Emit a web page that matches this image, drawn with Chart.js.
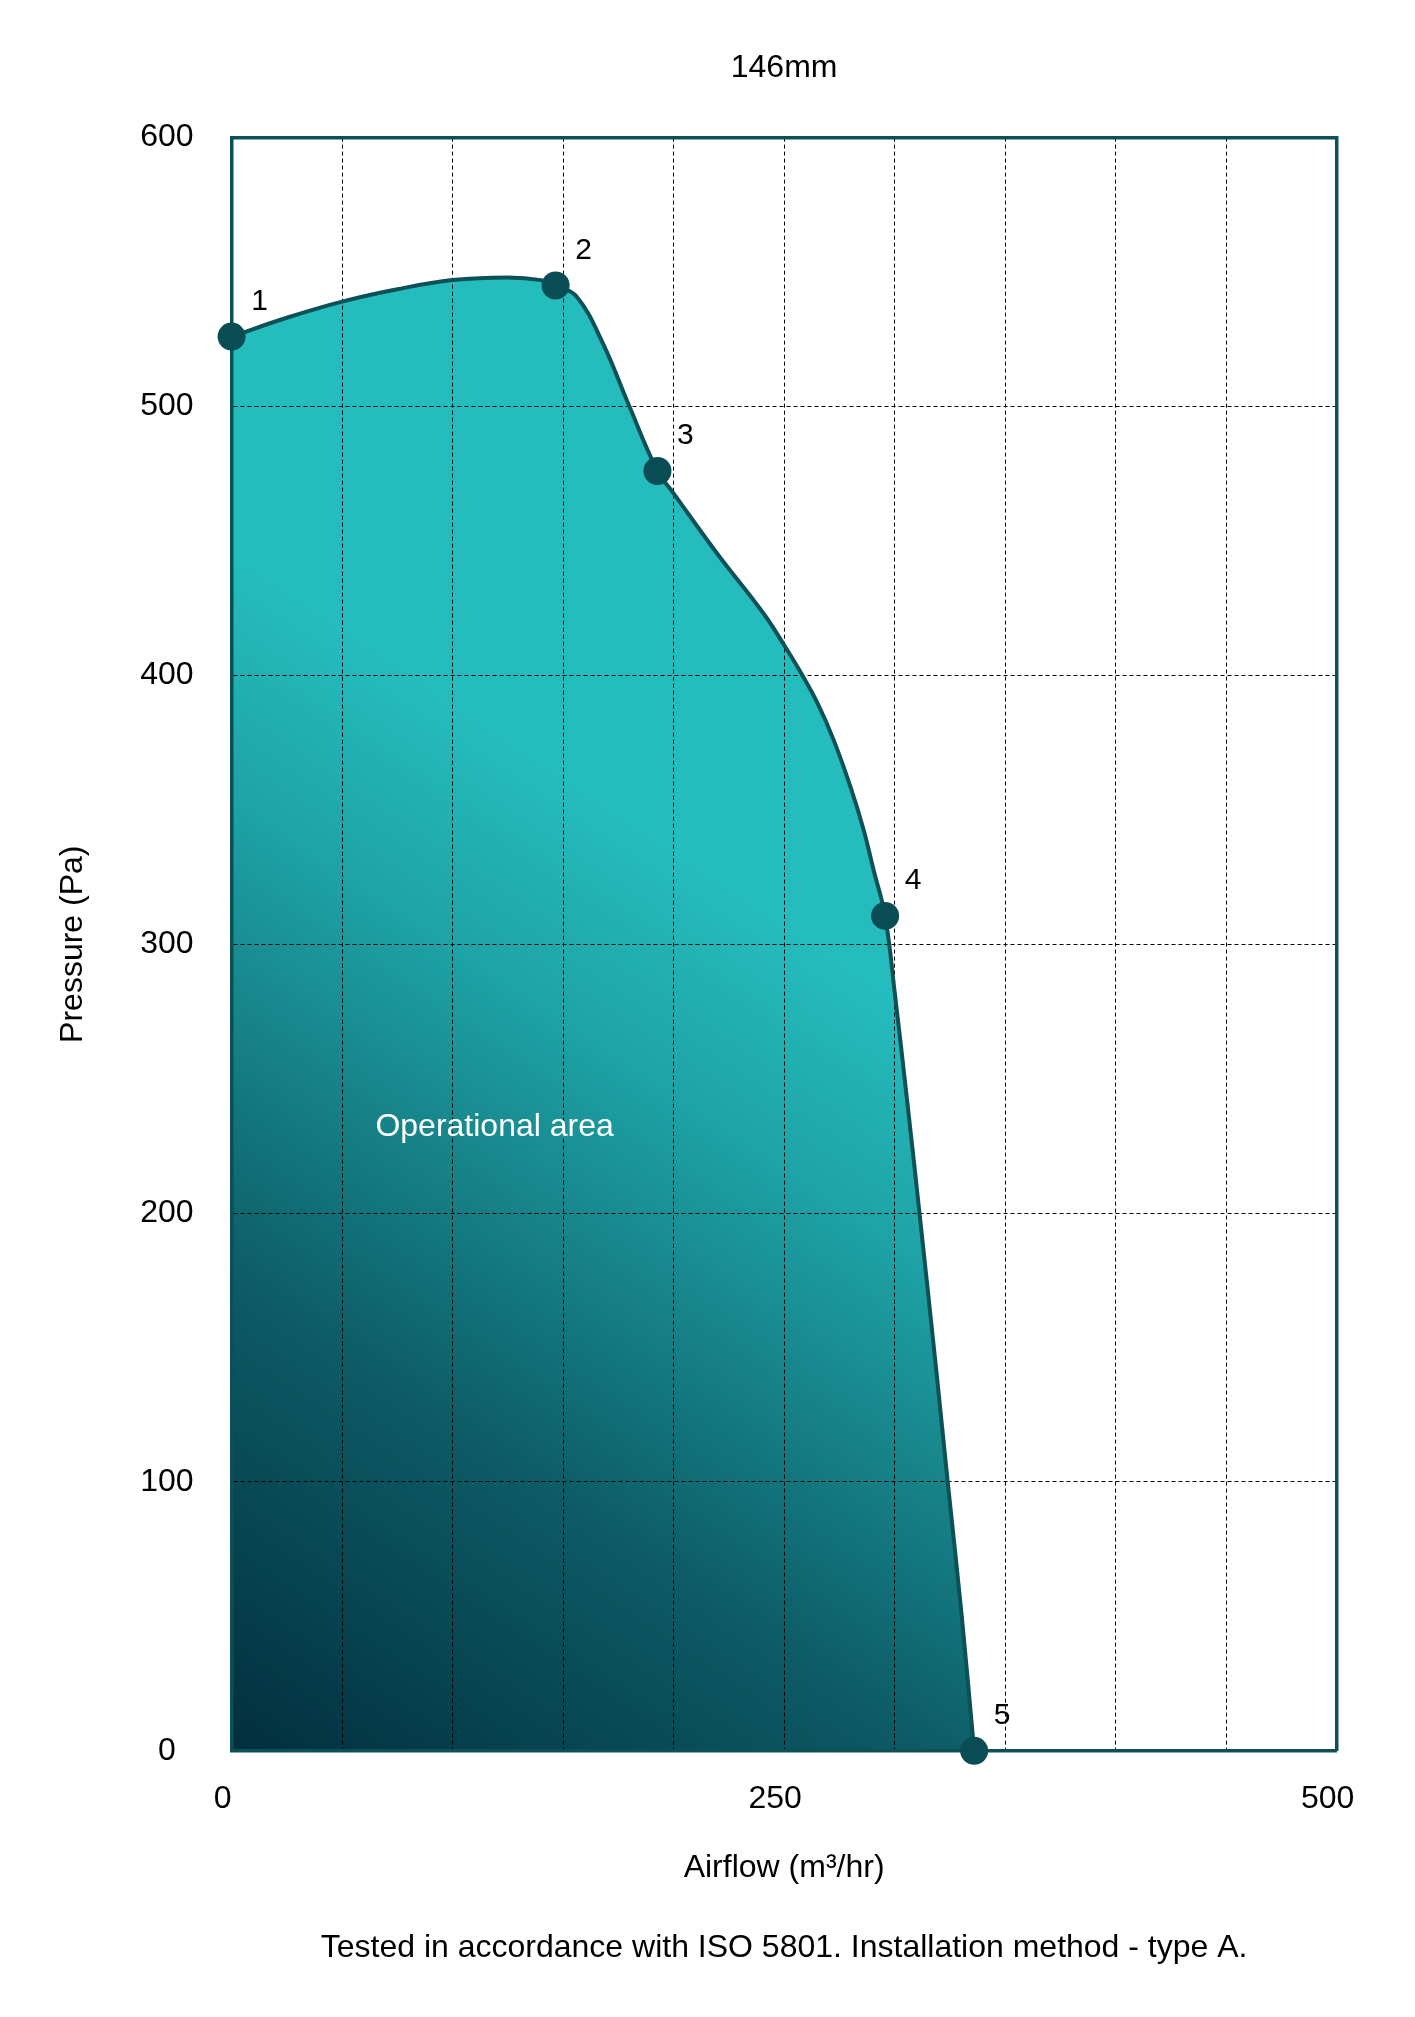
<html>
<head>
  <title>146mm fan curve</title>
  <style type="text/css">
    body { margin: 0; background: #fff; }
    #chart { display: block; }
  </style>
</head>
<body>
  <canvas id="chart" width="1415" height="2017"></canvas>
  <script src="https://cdn.jsdelivr.net/npm/chart.js@4/dist/chart.umd.min.js"></script>
  <script>
    // fan curve (airflow m3/hr, pressure Pa)
    const curveFlow = [0, 25, 50, 75, 100, 125, 140, 146.6, 156, 168, 179.5, 192.7, 200, 219.6, 240.7, 250.2, 258, 264.9, 272.4, 280, 286, 290.5, 295.7, 300.2, 305.5, 311, 319.3, 323.9, 330.4, 336];
    const curvePressure = [526, 533, 539, 543.6, 547, 548, 547, 545, 541, 523.5, 501, 476, 467.7, 445.4, 423, 411, 400.4, 390, 376, 358.6, 342.5, 327.6, 310.5, 281, 243, 202, 138, 101, 50, 0];

    // numbered test points
    const pointNames = ['1', '2', '3', '4', '5'];
    const pointFlow = [0, 146.6, 192.7, 295.7, 336];
    const pointPressure = [526, 545, 476, 310.5, 0];

    const xTickLabels = [0, 250, 500];
    const areaLabel = 'Operational area';

    const FONT = '"Liberation Sans", Arial, Helvetica, sans-serif';
    const dark = '#0C5058';
    const fillStops = ['#022f3e', '#0d5c66', '#168086', '#1ea3a6', '#25bcbd'];

    function areaGradient(c) {
      const a = c.chart.chartArea;
      if (!a) return fillStops[fillStops.length - 1];
      const w = a.right - a.left, h = a.bottom - a.top;
      const g = c.chart.ctx.createLinearGradient(a.left, a.bottom, a.left + 0.50 * w, a.top + 0.49 * h);
      g.addColorStop(0, fillStops[0]);
      g.addColorStop(0.4, fillStops[1]);
      g.addColorStop(0.6, fillStops[2]);
      g.addColorStop(0.8, fillStops[3]);
      g.addColorStop(1, fillStops[4]);
      return g;
    }

    const textPlugin = {
      id: 'textLabels',
      afterDatasetsDraw(chart) {
        const { ctx, scales: { x, y } } = chart;
        ctx.save();
        ctx.textAlign = 'center';
        ctx.textBaseline = 'middle';
        ctx.fillStyle = '#000';
        ctx.font = '30px ' + FONT;
        pointNames.forEach((n, i) => {
          ctx.fillText(n, x.getPixelForValue(pointFlow[i]) + 28, y.getPixelForValue(pointPressure[i]) - 35);
        });
        ctx.fillStyle = '#fff';
        ctx.font = '32px ' + FONT;
        ctx.fillText(areaLabel, x.getPixelForValue(119), y.getPixelForValue(232));
        ctx.restore();
      }
    };

    const edgeHidden = (edges) => (c) => (c.tick && edges.includes(c.tick.value)) ? 'rgba(0,0,0,0)' : '#000';

    Chart.defaults.font.family = FONT;
    Chart.defaults.font.size = 32;
    Chart.defaults.color = '#000';

    new Chart(document.getElementById('chart'), {
      type: 'line',
      data: {
        datasets: [{
          data: curveFlow.map((v, i) => ({ x: v, y: curvePressure[i] })),
          borderColor: dark,
          borderWidth: 4,
          backgroundColor: areaGradient,
          fill: 'origin',
          tension: 0.4,
          pointRadius: 0,
          order: 2
        }, {
          data: pointFlow.map((v, i) => ({ x: v, y: pointPressure[i] })),
          showLine: false,
          pointRadius: 14,
          pointBackgroundColor: '#0A4D55',
          pointBorderWidth: 0,
          clip: false,
          order: 1
        }]
      },
      options: {
        responsive: false,
        animation: false,
        layout: { padding: { left: 0, right: 78.4, top: 0, bottom: 0 } },
        plugins: {
          legend: { display: false },
          tooltip: { enabled: false },
          filler: { drawTime: 'beforeDraw' },
          title: {
            display: true,
            text: '146mm',
            fullSize: false,
            font: { size: 32, weight: 'normal' },
            color: '#000',
            padding: { top: 49, bottom: 50.2 }
          },
          subtitle: {
            display: true,
            position: 'bottom',
            text: 'Tested in accordance with ISO 5801. Installation method - type A.',
            fullSize: false,
            font: { size: 32 },
            color: '#000',
            padding: { top: 41.6, bottom: 49.8 }
          }
        },
        scales: {
          x: {
            type: 'linear',
            min: 0,
            max: 500,
            grid: { color: edgeHidden([0, 500]), lineWidth: 1, drawTicks: false },
            border: { display: true, color: dark, width: 3.5, dash: [4, 3] },
            ticks: {
              stepSize: 50,
              autoSkip: false,
              maxRotation: 0,
              padding: 29,
              labelOffset: -9,
              callback: (v) => xTickLabels.includes(v) ? String(v) : ''
            },
            title: { display: true, text: 'Airflow (m³/hr)', padding: { top: 30.6, bottom: 0 } },
            afterFit: (s) => { s.height = 136.4; }
          },
          y: {
            min: 0,
            max: 600,
            grid: { color: edgeHidden([0, 600]), lineWidth: 1, drawTicks: false },
            border: { display: true, color: dark, width: 3.5, dash: [4, 3] },
            ticks: { stepSize: 100, padding: 38, crossAlign: 'center' },
            title: { display: true, text: 'Pressure (Pa)', padding: { top: 54.1, bottom: 0 } },
            afterFit: (s) => { s.width = 231.6; }
          },
          x2: {
            type: 'linear',
            position: 'top',
            min: 0,
            max: 500,
            grid: { display: false, drawTicks: false },
            border: { display: true, color: dark, width: 3.5 },
            ticks: { display: false }
          },
          y2: {
            type: 'linear',
            position: 'right',
            min: 0,
            max: 600,
            grid: { display: false, drawTicks: false },
            border: { display: true, color: dark, width: 3.5 },
            ticks: { display: false }
          }
        }
      },
      plugins: [textPlugin]
    });
  </script>
</body>
</html>
